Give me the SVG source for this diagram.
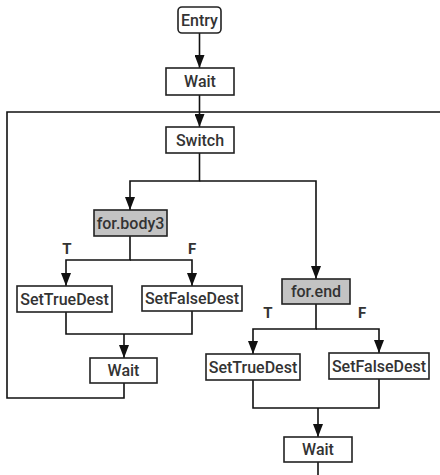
<svg xmlns="http://www.w3.org/2000/svg" width="440" height="475" viewBox="0 0 440 475">
<style>
.n{fill:#fff;stroke:#222;stroke-width:1.6}
.g{fill:#c3c3c3;stroke:#222;stroke-width:1.6}
.t{font-family:Roboto,"Liberation Sans",sans-serif;font-size:16px;font-weight:500;fill:#333;text-anchor:middle;dominant-baseline:central}
.e{fill:none;stroke:#111;stroke-width:1.6}
.l{font-family:Roboto,"Liberation Sans",sans-serif;font-size:15px;font-weight:bold;fill:#333;text-anchor:middle}
</style>
<defs>
<marker id="a" markerWidth="13" markerHeight="10" refX="13" refY="5" orient="auto" markerUnits="userSpaceOnUse" viewBox="0 0 13 10">
<path d="M0,0 L13,5 L0,10 Z" fill="#111"/>
</marker>
</defs>
<rect width="440" height="475" fill="#fff"/>
<g id="edges">
<path class="e" d="M199.5,33 V68" marker-end="url(#a)"/>
<path class="e" d="M199.5,95 V127" marker-end="url(#a)"/>
<path class="e" d="M440,112 H7 V398 H124 V383"/>
<path class="e" d="M199.5,153 V181 H130 V210" marker-end="url(#a)"/>
<path class="e" d="M199.5,181 H316 V279" marker-end="url(#a)"/>
<path class="e" d="M130,236 V260 H66 V286" marker-end="url(#a)"/>
<path class="e" d="M130,260 H192 V286" marker-end="url(#a)"/>
<path class="e" d="M66,312 V334 H192 V311"/>
<path class="e" d="M124,334 V358" marker-end="url(#a)"/>
<path class="e" d="M316,304 V329 H253 V354" marker-end="url(#a)"/>
<path class="e" d="M316,329 H379 V353" marker-end="url(#a)"/>
<path class="e" d="M253,380 V408 H379 V379"/>
<path class="e" d="M318,408 V437" marker-end="url(#a)"/>
<path class="e" d="M318,462 V475"/>
<text class="l" x="67" y="254">T</text>
<text class="l" x="192" y="254">F</text>
<text class="l" x="268" y="318">T</text>
<text class="l" x="362" y="318">F</text>
</g>
<g id="entry"><rect class="n" x="178" y="7" width="43" height="26" rx="4"/><text class="t" x="199.5" y="20">Entry</text></g>
<g id="wait1"><rect class="n" x="166" y="68" width="68" height="27"/><text class="t" x="200" y="81.5">Wait</text></g>
<g id="switch"><rect class="n" x="166" y="127" width="68" height="26"/><text class="t" x="200" y="140">Switch</text></g>
<g id="forbody3"><rect class="g" x="94" y="210" width="73" height="26"/><text class="t" x="130.5" y="223">for.body3</text></g>
<g id="settrue1"><rect class="n" x="17" y="286" width="95" height="26"/><text class="t" x="64.5" y="299">SetTrueDest</text></g>
<g id="setfalse1"><rect class="n" x="142" y="286" width="100" height="25"/><text class="t" x="192" y="298.5">SetFalseDest</text></g>
<g id="wait2"><rect class="n" x="90" y="358" width="67" height="25"/><text class="t" x="123.5" y="370.5">Wait</text></g>
<g id="forend"><rect class="g" x="282" y="279" width="68" height="25"/><text class="t" x="316" y="291.5">for.end</text></g>
<g id="settrue2"><rect class="n" x="206" y="354" width="94" height="26"/><text class="t" x="253" y="367">SetTrueDest</text></g>
<g id="setfalse2"><rect class="n" x="329" y="353" width="100" height="26"/><text class="t" x="379" y="366">SetFalseDest</text></g>
<g id="wait3"><rect class="n" x="284" y="437" width="68" height="25"/><text class="t" x="318" y="449.5">Wait</text></g>
</svg>
